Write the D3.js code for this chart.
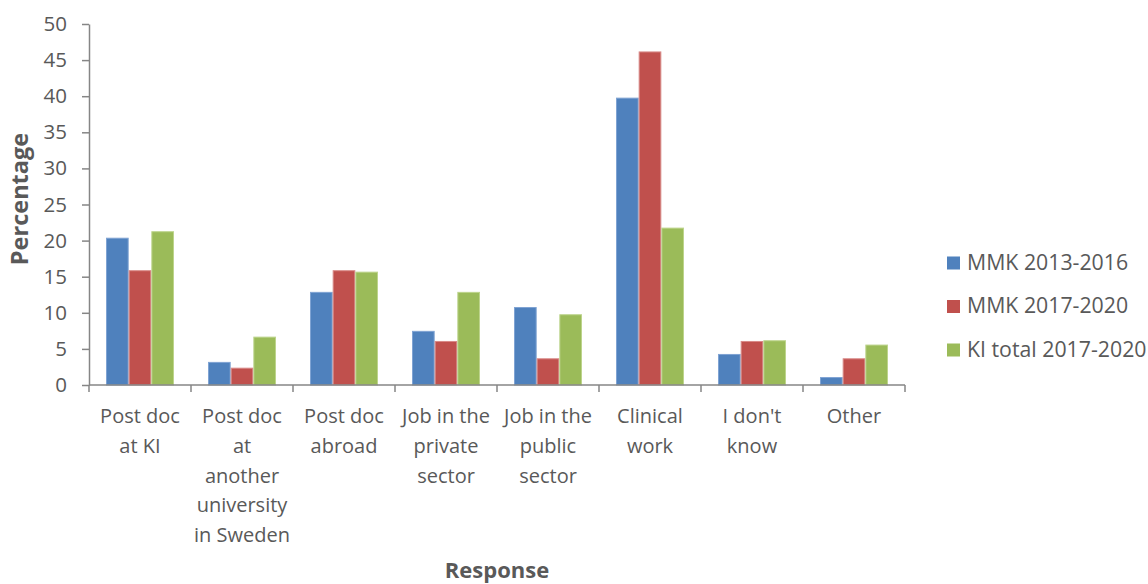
<!DOCTYPE html>
<html>
<head>
<meta charset="utf-8">
<script src="https://cdn.jsdelivr.net/npm/d3@7"></script>
<style>
  html, body { margin: 0; padding: 0; background: #fff; }
  svg { display: block; font-family: "Open Sans", sans-serif; }
</style>
</head>
<body>
<svg id="chart" width="1148" height="584"></svg>
<script>
// Career plans after the PhD, share of respondents per answer
const categories = [
  "Post doc at KI",
  "Post doc at another university in Sweden",
  "Post doc abroad",
  "Job in the private sector",
  "Job in the public sector",
  "Clinical work",
  "I don't know",
  "Other"
];
// Wrapped tick label lines for each category
const categoryLines = [
  ["Post doc", "at KI"],
  ["Post doc", "at", "another", "university", "in Sweden"],
  ["Post doc", "abroad"],
  ["Job in the", "private", "sector"],
  ["Job in the", "public", "sector"],
  ["Clinical", "work"],
  ["I don't", "know"],
  ["Other"]
];
const seriesNames = ["MMK 2013-2016", "MMK 2017-2020", "KI total 2017-2020"];
const mmk2013 = [20.4, 3.2, 12.9, 7.5, 10.8, 39.8, 4.3, 1.1];
const mmk2017 = [15.9, 2.4, 15.9, 6.1, 3.7, 46.2, 6.1, 3.7];
const kiTotal = [21.3, 6.7, 15.7, 12.9, 9.8, 21.8, 6.2, 5.6];
const yTicks = [0, 5, 10, 15, 20, 25, 30, 35, 40, 45, 50];

const seriesValues = [mmk2013, mmk2017, kiTotal];
const colors = ["#4F81BD", "#C0504D", "#9BBB59"];
const edges = ["#7FA3D3", "#D98A88", "#BDD48C"];
const textColor = "#595959";
const axisColor = "#868686";

const svg = d3.select("#chart");
const plotLeft = 89, plotRight = 905, plotTop = 24, plotBottom = 385;

const x0 = d3.scaleBand()
  .domain(categories)
  .range([plotLeft, plotRight])
  .paddingInner(1 / 3)
  .paddingOuter(1 / 6);
const x1 = d3.scaleBand()
  .domain(seriesNames)
  .range([0, x0.bandwidth()]);
const y = d3.scaleLinear().domain([0, 50]).range([plotBottom, plotTop]);

// Bars
const groups = svg.append("g").selectAll("g")
  .data(categories)
  .join("g")
  .attr("transform", d => `translate(${x0(d)},0)`);

groups.selectAll("rect")
  .data((c, i) => seriesNames.map((s, j) => ({ s, j, v: seriesValues[j][i] })))
  .join("rect")
  .attr("x", d => x1(d.s) + 0.5)
  .attr("y", d => y(d.v) + 0.5)
  .attr("width", x1.bandwidth() - 1)
  .attr("height", d => Math.max(0, y(0) - y(d.v) - 0.5))
  .attr("fill", d => colors[d.j])
  .attr("stroke", d => edges[d.j])
  .attr("stroke-width", 1);

// Y axis
const yAxis = svg.append("g")
  .attr("transform", `translate(${plotLeft},0)`)
  .call(d3.axisLeft(y).tickValues(yTicks).tickSize(7).tickSizeOuter(0).tickPadding(15));
yAxis.select(".domain").attr("stroke", axisColor).attr("stroke-width", 1.5);
yAxis.selectAll(".tick line").attr("stroke", axisColor).attr("stroke-width", 1.5);
yAxis.selectAll(".tick text")
  .attr("fill", textColor)
  .style("font-size", "20.5px")
  .style("font-family", "'Open Sans', sans-serif");

// X axis line and category boundary ticks
const step = x0.step();
const boundaries = categories.map(c => x0(c) - step * x0.paddingInner() / 2)
  .concat([x0(categories[categories.length - 1]) + x0.bandwidth() + step * x0.paddingInner() / 2]);
const xAxis = svg.append("g");
xAxis.append("line")
  .attr("x1", plotLeft).attr("x2", plotRight)
  .attr("y1", plotBottom).attr("y2", plotBottom)
  .attr("stroke", axisColor).attr("stroke-width", 1.5);
xAxis.selectAll("line.tick")
  .data(boundaries)
  .join("line")
  .attr("class", "tick")
  .attr("x1", d => d).attr("x2", d => d)
  .attr("y1", plotBottom).attr("y2", plotBottom + 7)
  .attr("stroke", axisColor).attr("stroke-width", 1.5);

// Category labels
const labels = svg.append("g")
  .selectAll("text")
  .data(categories)
  .join("text")
  .attr("x", d => x0(d) + x0.bandwidth() / 2)
  .attr("y", 423)
  .attr("text-anchor", "middle")
  .attr("fill", textColor)
  .style("font-size", "20px");
labels.selectAll("tspan")
  .data((d, i) => categoryLines[i])
  .join("tspan")
  .attr("x", function () { return this.parentNode.getAttribute("x"); })
  .attr("dy", (d, i) => i === 0 ? 0 : 29.8)
  .text(d => d);

// Axis titles
svg.append("text")
  .attr("transform", "translate(28,199) rotate(-90)")
  .attr("text-anchor", "middle")
  .attr("fill", textColor)
  .style("font-size", "23.5px")
  .style("font-weight", "bold")
  .text("Percentage");
svg.append("text")
  .attr("x", (plotLeft + plotRight) / 2)
  .attr("y", 578)
  .attr("text-anchor", "middle")
  .attr("fill", textColor)
  .style("font-size", "22px")
  .style("font-weight", "bold")
  .text("Response");

// Legend
const legend = svg.append("g")
  .selectAll("g")
  .data(seriesNames)
  .join("g")
  .attr("transform", (d, i) => `translate(947,${263 + i * 43.5})`);
legend.append("rect")
  .attr("x", 0).attr("y", -6.5)
  .attr("width", 13).attr("height", 13)
  .attr("fill", (d, i) => colors[i]);
legend.append("text")
  .attr("x", 20)
  .attr("y", 6.5)
  .attr("fill", textColor)
  .style("font-size", "21.3px")
  .text(d => d);
</script>
</body>
</html>
